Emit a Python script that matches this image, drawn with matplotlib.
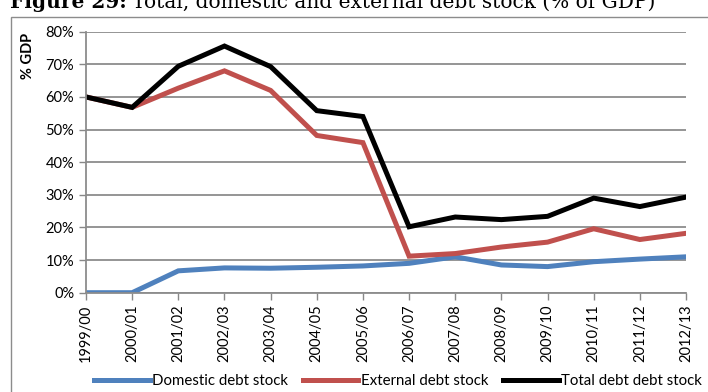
import matplotlib
matplotlib.use("Agg")
import matplotlib.pyplot as plt
from matplotlib.patches import Rectangle
from matplotlib.ticker import FuncFormatter

years = ["1999/00", "2000/01", "2001/02", "2002/03", "2003/04", "2004/05", "2005/06",
         "2006/07", "2007/08", "2008/09", "2009/10", "2010/11", "2011/12", "2012/13"]
domestic = [0.0, 0.0, 6.7, 7.6, 7.5, 7.8, 8.2, 9.0, 11.0, 8.5, 8.0, 9.5, 10.3, 11.0]
external = [60.0, 56.8, 62.7, 68.0, 62.0, 48.2, 46.0, 11.2, 12.0, 14.0, 15.5, 19.6, 16.3, 18.2]
total = [60.0, 56.8, 69.4, 75.6, 69.3, 55.8, 54.0, 20.2, 23.2, 22.4, 23.4, 29.0, 26.4, 29.3]

W, H = 708, 392
plt.rcParams["font.family"] = ["Lato", "DejaVu Sans"]

fig = plt.figure(figsize=(W / 100, H / 100), dpi=100)
ax = fig.add_axes([86 / W, 1 - 292.7 / H, 600 / W, 261 / H])

x = list(range(len(years)))
ax.plot(x, domestic, color="#4F81BD", lw=3.6, label="Domestic debt stock", solid_joinstyle="miter")
ax.plot(x, external, color="#C0504D", lw=3.6, label="External debt stock", solid_joinstyle="miter")
ax.plot(x, total, color="black", lw=3.6, label="Total debt debt stock", solid_joinstyle="miter")

ax.set_xlim(0, len(years) - 1)
ax.set_ylim(0, 80)
ax.set_yticks(range(0, 81, 10))
ax.yaxis.set_major_formatter(FuncFormatter(lambda v, p: "%d%%" % v))
ax.set_xticks(x)
ax.set_xticklabels(years, rotation=90, fontsize=10.5)
ax.tick_params(axis="y", labelsize=10.5, length=5, color="#888888", width=1)
ax.tick_params(axis="x", length=5, color="#888888", width=1)
ax.grid(axis="y", color="#8c8c8c", lw=1.3)
ax.set_axisbelow(True)
for s in ["top", "right"]:
    ax.spines[s].set_visible(False)
for s in ["left", "bottom"]:
    ax.spines[s].set_color("#8c8c8c")
    ax.spines[s].set_linewidth(1.3)

fig.text(28 / W, 1 - 56 / H, "% GDP", rotation=90, fontsize=10.5, fontweight="bold",
         ha="center", va="center")

fig.legend(loc="center", bbox_to_anchor=(398 / W, 1 - 381 / H), ncol=3, frameon=False,
           fontsize=10.8, handlelength=3.7, handletextpad=0.15, columnspacing=1.0,
           borderaxespad=0, borderpad=0)

fig.add_artist(Rectangle((11 / W, -0.02), 1, 1 - 17 / H + 0.02, transform=fig.transFigure,
                         fill=False, edgecolor="#8c8c8c", lw=1))

# title, clipped at top like the reference
t1 = fig.text(10 / W, 1 - 8 / H, "Figure 29:", fontsize=14.5, fontweight="bold",
              family="DejaVu Serif", va="baseline")
fig.canvas.draw()
bb = t1.get_window_extent()
fig.text(bb.x1 / W + 5 / W, 1 - 8 / H, "Total, domestic and external debt stock (% of GDP)",
         fontsize=14.5, family="DejaVu Serif", va="baseline")

fig.savefig("out.png", dpi=100)
